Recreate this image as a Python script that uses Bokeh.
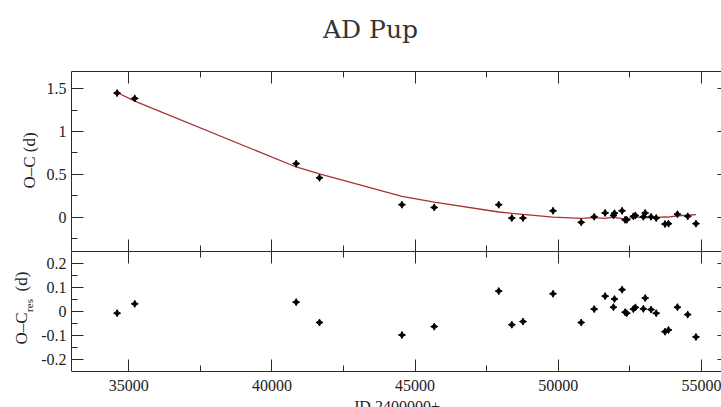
import math

from bokeh.embed import file_html
from bokeh.layouts import column, row
from bokeh.models import FixedTicker, Label, LinearAxis, Range1d
from bokeh.plotting import figure
from bokeh.resources import INLINE

# Times of minimum (JD - 2400000), observed O-C, fitted O-C and residuals (days)
jd = [34593, 35209, 40846, 41660, 44540, 45668, 47920, 48378, 48767, 49817,
      50800, 51254, 51636, 51927, 51962, 52228, 52333, 52391, 52623, 52693,
      52971, 53036, 53240, 53420, 53727, 53849, 54162, 54520, 54808]
oc = [1.448, 1.386, 0.625, 0.460, 0.146, 0.114, 0.146, -0.010, -0.010, 0.075,
      -0.060, 0.005, 0.050, 0.020, 0.047, 0.075, -0.030, -0.030, 0.010, 0.020,
      0.005, 0.050, 0.005, -0.010, -0.080, -0.075, 0.035, 0.010, -0.075]
oc_fit = [1.455, 1.354, 0.586, 0.506, 0.244, 0.177, 0.061, 0.045, 0.032, 0.001,
          -0.014, -0.005, -0.014, 0.002, -0.002, -0.016, -0.027, -0.023, 0.000, 0.003,
          -0.006, -0.006, -0.003, -0.003, 0.004, 0.002, 0.017, 0.023, 0.031]
res = [-0.007, 0.032, 0.039, -0.046, -0.098, -0.063, 0.085, -0.055, -0.042, 0.074,
       -0.046, 0.010, 0.064, 0.018, 0.052, 0.091, -0.003, -0.007, 0.010, 0.017,
       0.011, 0.056, 0.008, -0.007, -0.084, -0.077, 0.018, -0.013, -0.106]

# Tick values and labels
x_ticks = [35000, 40000, 45000, 50000, 55000]
x_minor = [37500, 42500, 47500, 52500]
x_labels = ["35000", "40000", "45000", "50000", "55000"]
top_ticks = [0, 0.5, 1, 1.5]
top_minor = [-0.25, 0.25, 0.75, 1.25]
top_labels = ["0", "0.5", "1", "1.5"]
bot_ticks = [-0.2, -0.1, 0, 0.1, 0.2]
bot_minor = [-0.15, -0.05, 0.05, 0.15]
bot_labels = ["-0.2", "-0.1", "0", "0.1", "0.2"]

X0, X1 = 33000, 55700
TOP_Y = (-0.4, 1.7)
BOT_Y = (-0.25, 0.25)      # residual axis extent
BOT_VIEW = (-0.40, 0.25)   # visible range, leaves room for the x labels

AX = "#2a2a2a"
TXT = "#222222"
SERIF = "Liberation Serif"
FIT_COLOR = "#a83232"
W, H = 721, 407
HEAD_H = 71
LABEL_W = 38
PLOT_W = W - LABEL_W

x_range = Range1d(X0, X1)


def blank(width, height, **kw):
    p = figure(width=width, height=height, x_axis_location=None,
               y_axis_location=None, toolbar_location=None,
               output_backend="svg", outline_line_color=None,
               background_fill_color="white", border_fill_color="white", **kw)
    p.grid.visible = False
    return p


def axis(ticks, minor, labels=None, tick_in=12, minor_in=6, line=True,
         standoff=5, bounds="auto"):
    ax = LinearAxis(ticker=FixedTicker(ticks=ticks, minor_ticks=minor),
                    bounds=bounds)
    ax.major_tick_in = tick_in
    ax.major_tick_out = 0
    ax.minor_tick_in = minor_in
    ax.minor_tick_out = 0
    ax.axis_line_color = AX if line else None
    ax.axis_line_width = 1
    ax.major_tick_line_color = AX
    ax.minor_tick_line_color = AX if minor_in > 0 else None
    if labels is not None:
        ax.major_label_overrides = dict(zip(ticks, labels))
        ax.major_label_text_font = SERIF
        ax.major_label_text_font_size = "16px"
        ax.major_label_text_color = TXT
        ax.major_label_standoff = standoff
    else:
        ax.major_label_text_font_size = "0px"
        ax.major_label_text_color = None
        ax.major_label_standoff = 0
    return ax


def panel(height, y_lim):
    return blank(PLOT_W, height, x_range=x_range, y_range=Range1d(*y_lim),
                 min_border_left=31, min_border_right=0,
                 min_border_top=0, min_border_bottom=0)


def marks(p, y):
    p.scatter(jd, y, marker="square_pin", angle=math.pi / 4, size=5,
              color="black")


# Heading
head = blank(W, HEAD_H, x_range=Range1d(0, W), y_range=Range1d(0, HEAD_H),
             min_border=0)
head.add_layout(Label(x=370, y=HEAD_H - 29, x_units="screen", y_units="screen",
                      text="AD Pup", text_align="center",
                      text_baseline="alphabetic", text_font="DejaVu Serif",
                      text_font_size="25px", text_color="#333333"))

# Upper panel: O-C with the fitted curve
top = panel(180, TOP_Y)
top.add_layout(axis(top_ticks, top_minor, top_labels), "left")
top.add_layout(axis(top_ticks, [], tick_in=4, minor_in=0, line=False), "right")
top.add_layout(axis(x_ticks, x_minor), "above")
top.add_layout(axis(x_ticks, x_minor), "below")

top.line(jd, oc_fit, line_color=FIT_COLOR, line_width=1.3)
marks(top, oc)

# Lower panel: residuals
bot = panel(156, BOT_VIEW)
bot.add_layout(axis(bot_ticks, bot_minor, bot_labels, bounds=BOT_Y), "left")
bot.add_layout(axis(bot_ticks, [], tick_in=4, minor_in=0, line=False,
                    bounds=BOT_Y), "right")
bot.add_layout(axis(x_ticks, x_minor), "above")
xax = axis(x_ticks, x_minor, x_labels, standoff=8)
xax.fixed_location = BOT_Y[0]
bot.add_layout(xax, "below")

marks(bot, res)

bot.add_layout(Label(x=(X0 + X1) / 2, y=BOT_Y[0], y_offset=-26,
                     text="JD 2400000+", text_align="center",
                     text_baseline="top", text_font=SERIF,
                     text_font_size="16px", text_color=TXT))

# Strip holding the rotated y-axis titles
side_h = H - HEAD_H
side = blank(LABEL_W, side_h, x_range=Range1d(0, LABEL_W),
             y_range=Range1d(0, side_h), min_border=0)
rot = dict(angle=math.pi / 2, text_align="center", text_baseline="middle",
           text_font=SERIF, text_color=TXT, x_units="screen", y_units="screen")
side.add_layout(Label(x=29, y=H - 160, text="O–C (d)", text_font_size="17px", **rot))
side.add_layout(Label(x=21, y=H - 328, text="O–C", text_font_size="17px", **rot))
side.add_layout(Label(x=28, y=H - 305, text="res", text_font_size="11px", **rot))
side.add_layout(Label(x=21, y=H - 281, text="(d)", text_font_size="17px", **rot))

layout = column(head, row(side, column(top, bot, spacing=0), spacing=0),
                spacing=0)

open("out.html", "w").write(file_html(layout, INLINE))
